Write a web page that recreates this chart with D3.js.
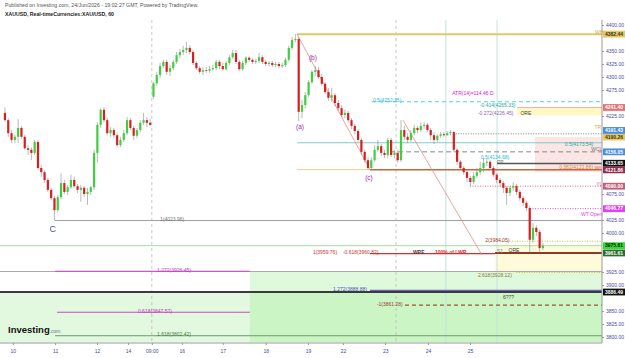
<!DOCTYPE html>
<html>
<head>
<meta charset="utf-8">
<script src="https://cdn.jsdelivr.net/npm/d3@7"></script>
<style>
  body { margin: 0; background: #fff; }
  text { font-family: "Liberation Sans", Arial, sans-serif; }
</style>
</head>
<body>
<svg id="chart" width="625" height="358"></svg>
<script>
// XAU/USD hourly candles (bar index = position in arrays)
let opens  = [4231,4217,4192,4179,4185,4202,4185,4163,4160,4154,4175,4125,4117,4102,4083,4067,4044,4069,4096,4079,
              4088,4102,4090,4083,4087,4075,4079,4088,4154,4208,4237,4217,4192,4198,4188,4169,4179,4192,4217,4202,
              4187,4198,4212,4217,4212,4262,4288,4304,4321,4329,4310,4317,4329,4342,4348,4352,4356,4348,4327,4317,
              4310,4313,4312,4315,4317,4329,4321,4315,4327,4338,4346,4329,4315,4327,4337,4333,4329,4331,4338,4329,
              4325,4327,4323,4325,4321,4323,4333,4356,4371,4373,4233,4246,4265,4290,4310,4313,4300,4287,4271,4260,
              4265,4250,4240,4227,4231,4217,4206,4196,4179,4156,4140,4125,4140,4160,4167,4154,4150,4179,4150,4154,
              4140,4198,4185,4179,4192,4202,4198,4206,4208,4198,4188,4179,4187,4190,4188,4192,4194,4160,4137,4125,
              4117,4106,4098,4110,4117,4125,4135,4137,4125,4112,4102,4096,4087,4077,4087,4090,4079,4067,4058,4048,
              3987,4010,4002,3971]
let highs  = [4242,4221,4198,4189,4219,4206,4189,4169,4165,4179,4179,4131,4121,4106,4087,4071,4073,4115,4102,4092,
              4112,4108,4094,4092,4090,4087,4090,4160,4213,4240,4242,4221,4204,4202,4192,4185,4198,4223,4221,4206,
              4202,4217,4231,4223,4219,4290,4310,4327,4333,4333,4323,4333,4348,4354,4360,4367,4361,4352,4331,4321,
              4319,4319,4321,4323,4333,4333,4327,4331,4342,4352,4352,4333,4331,4340,4340,4337,4335,4346,4342,4333,
              4331,4331,4329,4329,4327,4337,4360,4377,4382.44,4377,4256,4271,4294,4313,4321,4319,4306,4290,4279,4279,
              4269,4256,4246,4237,4235,4221,4210,4200,4183,4160,4146,4146,4169,4179,4171,4160,4183,4183,4160,4160,
              4217,4206,4192,4198,4208,4206,4212,4213,4212,4202,4194,4190,4194,4194,4196,4198,4196,4163,4140,4129,
              4121,4110,4117,4125,4137,4144,4142,4140,4129,4115,4106,4100,4090,4090,4098,4094,4083,4071,4062,4052,
              4019,4015,4006,3981]
let lows   = [4214,4185,4173,4173,4173,4181,4160,4150,4140,4150,4121,4108,4096,4079,4063,4023.96,4040,4065,4075,4073,
              4085,4087,4077,4060,4069,4054,4073,4083,4135,4202,4213,4188,4185,4183,4165,4165,4175,4188,4198,4179,
              4183,4194,4208,4204,4206,4258,4283,4298,4317,4304,4302,4313,4325,4336,4342,4346,4344,4323,4313,4306,
              4304,4308,4308,4312,4313,4315,4312,4312,4323,4335,4325,4312,4312,4323,4329,4325,4325,4327,4325,4321,
              4321,4319,4319,4317,4317,4319,4329,4352,4367,4215,4221,4240,4262,4287,4302,4296,4283,4267,4254,4252,
              4244,4235,4223,4221,4212,4200,4190,4175,4150,4135,4121.86,4122,4137,4156,4148,4144,4144,4146,4144,4135,
              4137,4179,4173,4175,4188,4192,4194,4200,4194,4179,4171,4175,4183,4185,4187,4188,4156,4131,4123,4112,
              4098,4090,4094,4106,4112,4117,4129,4121,4108,4096,4090,4077,4054,4071,4081,4073,4062,4052,4042,3963.5,
              3981,3994,3961.61,3967]
let closes = [4217,4192,4179,4185,4202,4185,4163,4160,4154,4175,4125,4117,4102,4083,4067,4044,4069,4096,4079,4088,
              4102,4090,4083,4087,4075,4079,4088,4154,4208,4237,4217,4192,4198,4188,4169,4179,4192,4217,4202,4187,
              4198,4212,4217,4212,4208,4288,4304,4321,4329,4310,4317,4329,4342,4348,4352,4356,4348,4327,4317,4310,
              4313,4312,4315,4317,4329,4321,4315,4327,4338,4346,4329,4315,4327,4337,4333,4329,4331,4338,4329,4325,
              4327,4323,4325,4321,4323,4333,4356,4371,4373,4233,4246,4265,4290,4310,4313,4300,4287,4271,4260,4265,
              4250,4240,4227,4231,4217,4206,4196,4179,4156,4140,4125,4140,4160,4167,4154,4150,4179,4150,4154,4140,
              4198,4185,4179,4192,4202,4198,4206,4208,4198,4188,4179,4187,4190,4188,4192,4194,4160,4137,4125,4117,
              4106,4098,4110,4117,4125,4135,4137,4125,4112,4102,4096,4087,4077,4087,4090,4079,4067,4058,4048,3987,
              4010,4002,3971,3975.61]

// time axis labels and the bar index they sit on
let dayLabels = ["10","11","12","14","09:00","16","17","18","19","22","23","24","25"]
let dayIndex  = [2.4, 15.2, 27.9, 37.3, 44.5, 53.6, 66, 79, 91.8, 102.4, 115.2, 128.2, 140.9]

// session / week separators (bar index)
let dashedSeps = [44.5, 118.5]
let solidSeps  = [133.6, 149.1]

// price ticks on the right scale
let priceTicks = d3.range(3800, 4400.1, 25)

// drawn horizontal levels: [key, price, fromIndex, toIndex]
let END = 180.9
let levels = [
  ["wh",      4382.44,  88.5, END],
  ["fibCyan", 4252.35, 111.2, END],
  ["oreTop",  4241.40, 155.2, END],
  ["trY",     4190.26, 135.8, END],
  ["trB",     4191.43, 135.8, END],
  ["teal",    4173.54,  88.5, END],
  ["wcl",     4156.05, 116.7, END],
  ["pp",      4133.65, 149.1, END],
  ["wlTan",   4121.86,  88.5, 110.6],
  ["wl",      4121.86, 110.6, END],
  ["yl",      4090.00, 140.9, END],
  ["wto",     4046.77, 159.1, END],
  ["low",     4023.96,  15.2, END],
  ["last",    3975.61,  -1.5, END],
  ["two",     3984.05, 149.1, END],
  ["lwr",     3960.50, 110.6, 148.5],
  ["s1",      3961.61, 148.5, END],
  ["grey",    3926.00,  -1.5, END],
  ["mag1",    3926.45,  15.2, 74.2],
  ["t618",    3924.00, 155.0, END],
  ["purp",    3888.88, 110.6, END],
  ["dark",    3886.49,  -1.5, END],
  ["m1",      3861.28, 121.2, END],
  ["mag2",    3847.57,  15.8, 74.2],
  ["g1618",   3802.42,  15.2, END]
]

// shaded zones: [key, priceTop, priceBottom, fromIndex, toIndex]
let zones = [
  ["greenA", 3886.49, 3790,    -1.5, END],
  ["greenB", 3926.00, 3790,    74.2, END],
  ["yellow", 3975.61, 3924,   148.5, END],
  ["pink",   4184.6,  4117.3, 160.6, END],
  ["ore",    4241.40, 4226.45, 155.2, END]
]

// wave lines: [fromIndex, fromPrice, toIndex, toPrice]
let waves = [
  [88.5, 4382.44, 110.6, 4121.86],
  [120.6, 4217, 144.5, 3958]
]

// text notes: [key, text, index, price]
let notes = [
  ["wh",   "WH", 178.8, 4386.5],
  ["atr",  "ATR(14)=114.46 D", 135.5, 4269.2],
  ["cyan", "0.5(4252.35)", 111.5, 4255.8],
  ["teal", "-0.414(4265.33)", 143.9, 4246.2],
  ["purl", "-0.272(4226.45)", 143.3, 4230.8],
  ["dk",   "ORE", 156.2, 4230.8],
  ["trs",  "TR", 178.6, 4203.8],
  ["tealR","0.5(4173.54)", 178.2, 4170],
  ["greyR","WCL", 181, 4160.5],
  ["cyan", "0.5(4134.68)", 144.2, 4146.2],
  ["grey", "PP", 149.1, 4136.5],
  ["orR",  "0.382(4121.86)", 178.2, 4125.5],
  ["orR2", "WL", 181, 4125],
  ["pinkR","YL", 181, 4093],
  ["magR", "WT Open", 181, 4037],
  ["grey", "1(4023.96)", 47, 4027],
  ["bigC", "C", 14.5, 4007.7],
  ["wave", "(a)", 89.4, 4203.8],
  ["wave", "(b)", 93.3, 4336.5],
  ["wave", "(c)", 110.3, 4105.8],
  ["brn",  "2(3984.05)", 145.5, 3987],
  ["red",  "1(3959.76)", 93.3, 3963.5],
  ["red",  "-0.618(3960.82)", 102.4, 3963.5],
  ["dkB",  "WRE", 123.6, 3963.5],
  ["redB", "100% of LWR", 130.3, 3963.5],
  ["grey", "S1", 149.1, 3965.4],
  ["dk",   "ORE", 152.6, 3967.3],
  ["mag",  "1.272(3926.45)", 46.1, 3929],
  ["olv",  "2.618(3928.12)", 143.3, 3919.5],
  ["blu",  "1.272(3888.88)", 99.4, 3892.3],
  ["dk",   "6?7?", 150.9, 3876.9],
  ["brn",  "-1(3861.28)", 112.7, 3863.5],
  ["mag",  "0.618(3847.57)", 40.3, 3850],
  ["grn",  "1.618(3802.42)", 46.1, 3806]
]

// price tags on the scale: [price, key]
let tags = [
  [4382.44, "gold"], [4241.40, "salmon"], [4190.26, "gold"], [4191.43, "blue"],
  [4156.05, "blue"], [4133.65, "black"], [4121.86, "maroon"], [4090.00, "rose"],
  [4046.77, "magenta"], [3975.61, "lime"], [3961.61, "olive"], [3886.49, "black"]
]

// ---------- styles ----------
let levelStyle = {
  wh:      {c: "#e3c766", w: 2},
  fibCyan: {c: "#4dd0e1", w: 1, d: "4,3"},
  oreTop:  {c: "#e9a0a0", w: 0.8},
  trY:     {c: "#dcc060", w: 1, d: "1,1.5"},
  trB:     {c: "#8fb0e0", w: 1, d: "1,1.5"},
  teal:    {c: "#80cbc4", w: 1},
  wcl:     {c: "#8a8a8a", w: 1, d: "5,3"},
  pp:      {c: "#555555", w: 1.5},
  wlTan:   {c: "#e8d28a", w: 1},
  wl:      {c: "#c8643c", w: 1.5},
  yl:      {c: "#e06090", w: 1, d: "1,1.5"},
  wto:     {c: "#e040e0", w: 1, d: "1,1.5"},
  low:     {c: "#9e9e9e", w: 1},
  last:    {c: "#9fe39f", w: 1},
  two:     {c: "#d8c040", w: 1, d: "1,1.5"},
  lwr:     {c: "#d03030", w: 1.2},
  s1:      {c: "#8b3a2a", w: 2},
  grey:    {c: "#a8a8a8", w: 1},
  mag1:    {c: "#cc44cc", w: 1.2},
  t618:    {c: "#d8c040", w: 1, d: "1,1.5"},
  purp:    {c: "#7060c0", w: 2},
  dark:    {c: "#3a3a3a", w: 2},
  m1:      {c: "#a0522d", w: 1.2, d: "4,3"},
  mag2:    {c: "#cc44cc", w: 1.2},
  g1618:   {c: "#6f9a6f", w: 1}
}
let zoneFill = {
  greenA: "rgba(150,235,140,0.28)",
  greenB: "rgba(150,235,140,0.30)",
  yellow: "rgba(255,240,150,0.35)",
  pink:   "rgba(245,180,180,0.35)",
  ore:    "rgba(255,240,120,0.45)"
}
let noteStyle = {
  wh:   {c: "#cfae3c"},
  atr:  {c: "#d020d0"},
  cyan: {c: "#26c0d6"},
  teal: {c: "#26a69a"},
  purl: {c: "#9060c0"},
  dk:   {c: "#444"},
  dkB:  {c: "#444", b: 1},
  trs:  {c: "#cfae3c"},
  tealR:{c: "#26a69a", a: "end"},
  greyR:{c: "#777", a: "end"},
  grey: {c: "#777"},
  orR:  {c: "#e08040", a: "end"},
  orR2: {c: "#c8643c", a: "end"},
  pinkR:{c: "#e06090", a: "end"},
  magR: {c: "#e040e0", a: "end"},
  bigC: {c: "#3f51b5", s: 9, a: "middle"},
  wave: {c: "#9c27b0", s: 6.5, a: "middle"},
  brn:  {c: "#a04030"},
  red:  {c: "#d03030"},
  redB: {c: "#d03030", b: 1},
  mag:  {c: "#c040c0"},
  olv:  {c: "#8a7a30"},
  blu:  {c: "#5050c0"},
  grn:  {c: "#4a7a4a"}
}
let tagColor = {
  gold:    ["#e8c95e", "#333"],
  salmon:  ["#e57373", "#fff"],
  blue:    ["#4a8fd8", "#fff"],
  black:   ["#111111", "#fff"],
  maroon:  ["#8e2d4e", "#fff"],
  rose:    ["#c0607a", "#fff"],
  magenta: ["#e040fb", "#fff"],
  lime:    ["#33dd33", "#111"],
  olive:   ["#2e6b2e", "#fff"]
}

// ---------- chart ----------
let svg = d3.select("#chart")
let plotRight = 602, plotTop = 20, plotBottom = 343

let x = d3.scaleLinear().domain([-1.5, END]).range([0, plotRight])
let y = d3.scaleLinear().domain([3800, 4400]).range([337, 25])

let plot = svg.append("g")

// zones
plot.selectAll("rect.zone").data(zones).enter().append("rect")
    .attr("x", d => x(d[3]))
    .attr("y", d => y(d[1]))
    .attr("width", d => x(d[4]) - x(d[3]))
    .attr("height", d => Math.min(y(d[2]), plotBottom) - y(d[1]))
    .attr("fill", d => zoneFill[d[0]])

// separators
plot.selectAll("line.dsep").data(dashedSeps).enter().append("line")
    .attr("x1", d => x(d)).attr("x2", d => x(d))
    .attr("y1", plotTop).attr("y2", plotBottom)
    .attr("stroke", "#b8b8b8").attr("stroke-width", 0.8).attr("stroke-dasharray", "3,3")
plot.selectAll("line.ssep").data(solidSeps).enter().append("line")
    .attr("x1", d => x(d)).attr("x2", d => x(d))
    .attr("y1", plotTop).attr("y2", plotBottom)
    .attr("stroke", "#bfe3df").attr("stroke-width", 1)

// levels
plot.selectAll("line.lvl").data(levels).enter().append("line")
    .attr("x1", d => x(d[2])).attr("x2", d => x(d[3]))
    .attr("y1", d => y(d[1])).attr("y2", d => y(d[1]))
    .attr("stroke", d => levelStyle[d[0]].c)
    .attr("stroke-width", d => levelStyle[d[0]].w)
    .attr("stroke-dasharray", d => levelStyle[d[0]].d || null)

// wave lines
plot.selectAll("line.wave").data(waves).enter().append("line")
    .attr("x1", d => x(d[0])).attr("y1", d => y(d[1]))
    .attr("x2", d => x(d[2])).attr("y2", d => y(d[3]))
    .attr("stroke", "#e88a8a").attr("stroke-width", 0.8)

// candles
let bars = d3.range(closes.length)
let cg = plot.append("g")
cg.selectAll("line.wick").data(bars).enter().append("line")
    .attr("x1", i => x(i)).attr("x2", i => x(i))
    .attr("y1", i => y(highs[i])).attr("y2", i => y(lows[i]))
    .attr("stroke", "#8a8a8a").attr("stroke-width", 0.6)
cg.selectAll("rect.body").data(bars).enter().append("rect")
    .attr("x", i => x(i) - 1.1)
    .attr("width", 2.2)
    .attr("y", i => y(Math.max(opens[i], closes[i])))
    .attr("height", i => Math.max(0.7, Math.abs(y(opens[i]) - y(closes[i]))))
    .attr("fill", i => closes[i] >= opens[i] ? "#3fcf3f" : "#d81e1e")

// notes
plot.selectAll("text.note").data(notes).enter().append("text")
    .attr("x", d => x(d[2]))
    .attr("y", d => y(d[3]))
    .attr("dy", "0.35em")
    .attr("text-anchor", d => noteStyle[d[0]].a || "start")
    .attr("font-size", d => noteStyle[d[0]].s || 5)
    .attr("font-weight", d => noteStyle[d[0]].b ? "bold" : null)
    .attr("fill", d => noteStyle[d[0]].c)
    .text(d => d[1])

// price tags, spread apart where they collide
let tagData = tags.map(t => ({p: t[0], k: t[1], ty: y(t[0])}))
let sorted = tagData.slice().sort((a, b) => a.ty - b.ty)
for (let pass = 0; pass < 4; pass++) {
    for (let j = 1; j < sorted.length; j++) {
        let gap = sorted[j].ty - sorted[j - 1].ty
        if (gap < 6.6) {
            let push = (6.6 - gap) / 2
            sorted[j - 1].ty -= push
            sorted[j].ty += push
        }
    }
}

// axes
svg.append("line").attr("x1", plotRight).attr("x2", plotRight)
    .attr("y1", plotTop).attr("y2", plotBottom).attr("stroke", "#9a9a9a")
svg.append("line").attr("x1", 0).attr("x2", plotRight)
    .attr("y1", plotBottom).attr("y2", plotBottom).attr("stroke", "#9a9a9a")

// tick labels hidden behind a tag are left out, as on the scale
let freeTicks = priceTicks.filter(p => tagData.every(t => Math.abs(y(p) - t.ty) > 6.4))
let yAxis = svg.append("g")
    .attr("transform", "translate(" + plotRight + ",0)")
    .call(d3.axisRight(y).tickValues(freeTicks).tickFormat(d3.format(".2f")).tickSize(2).tickPadding(2))
yAxis.select(".domain").remove()
yAxis.selectAll("text").attr("font-size", 5).attr("fill", "#4b4ba0")
yAxis.selectAll("line").attr("stroke", "#9a9a9a")

let xAxis = svg.append("g")
    .attr("transform", "translate(0," + plotBottom + ")")
    .call(d3.axisBottom(x).tickValues(dayIndex).tickFormat((d, i) => dayLabels[i]).tickSize(2).tickPadding(4))
xAxis.select(".domain").remove()
xAxis.selectAll("text").attr("font-size", 5).attr("fill", "#3a50a0")
xAxis.selectAll("line").attr("stroke", "#9a9a9a")

let tg = svg.append("g").selectAll("g").data(tagData).enter().append("g")
    .attr("transform", d => "translate(" + (plotRight + 1) + "," + d.ty + ")")
tg.append("rect")
    .attr("x", 0).attr("y", -3.4).attr("width", 22).attr("height", 6.8)
    .attr("fill", d => tagColor[d.k][0])
tg.append("text")
    .attr("x", 2).attr("dy", "0.35em")
    .attr("font-size", 5).attr("font-weight", "bold")
    .attr("fill", d => tagColor[d.k][1])
    .text(d => d3.format(".2f")(d.p))

// header
svg.append("text").attr("x", 5).attr("y", 7).attr("font-size", 5.2).attr("fill", "#555")
    .text("Published on Investing.com, 24/Jun/2026 - 19:02:27 GMT, Powered by TradingView.")
svg.append("text").attr("x", 5).attr("y", 15.5).attr("font-size", 5.2).attr("font-weight", "bold").attr("fill", "#222")
    .text("XAUUSD, Real-timeCurrencies:XAU/USD, 60")

// logo
let logo = svg.append("text").attr("x", 8).attr("y", 333)
logo.append("tspan").attr("font-size", 9.5).attr("font-weight", "bold").attr("fill", "#111").text("Investing")
logo.append("tspan").attr("font-size", 5).attr("fill", "#777").text(".com")
</script>
</body>
</html>
